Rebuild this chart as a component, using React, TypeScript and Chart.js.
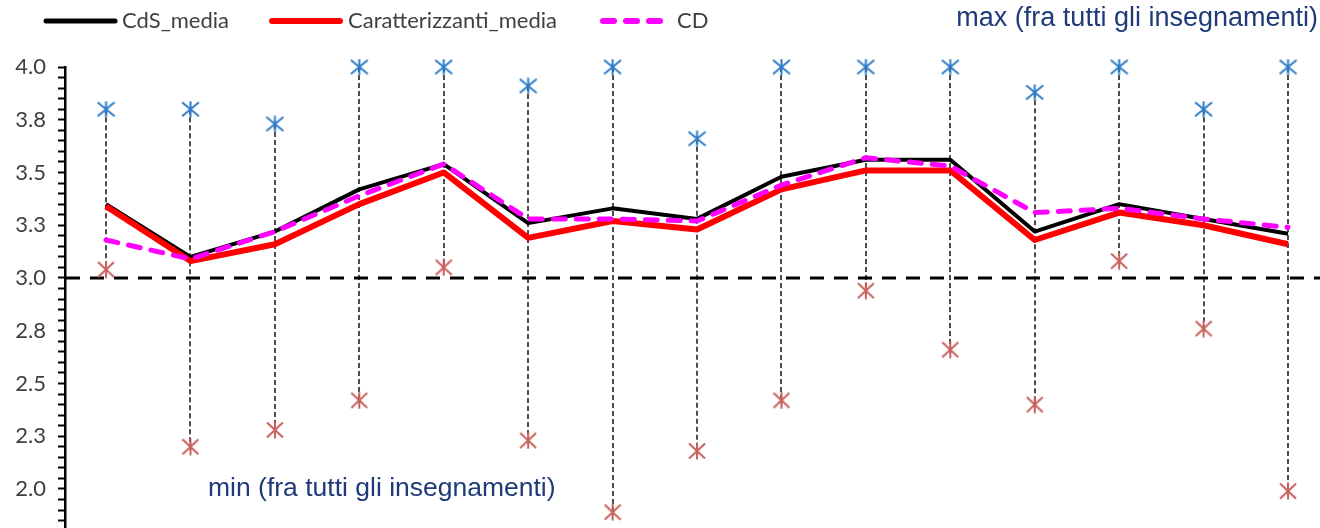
import React, { useEffect, useRef } from 'react';
import { Chart, registerables } from 'chart.js';

Chart.register(...registerables);

// ---- data ----
const CATEGORIES = ['1', '2', '3', '4', '5', '6', '7', '8', '9', '10', '11', '12', '13', '14', '15'];
const CDS_MEDIA = [3.35, 3.10, 3.22, 3.42, 3.54, 3.26, 3.33, 3.28, 3.48, 3.56, 3.56, 3.22, 3.35, 3.28, 3.21];
const CARATTERIZZANTI_MEDIA = [3.34, 3.08, 3.16, 3.35, 3.50, 3.19, 3.27, 3.23, 3.42, 3.51, 3.51, 3.18, 3.31, 3.25, 3.16];
const CD = [3.18, 3.09, 3.22, 3.39, 3.54, 3.28, 3.28, 3.27, 3.44, 3.57, 3.53, 3.31, 3.33, 3.28, 3.24];
const MAX_VALUES = [3.80, 3.80, 3.73, 4.0, 4.0, 3.91, 4.0, 3.66, 4.0, 4.0, 4.0, 3.88, 4.0, 3.80, 4.0];
const MIN_VALUES = [3.04, 2.20, 2.28, 2.42, 3.05, 2.23, 1.89, 2.18, 2.42, 2.94, 2.66, 2.40, 3.08, 2.76, 1.99];
const THRESHOLD = 3.0;
const Y_MIN = 1.815;
const Y_MAX = 4.0;
const Y_MINOR_STEP = 0.05;
const Y_LABEL_STEP = 0.25;
const X_MIN = -0.486;
const X_MAX = 14.379;
const MAX_LABEL = 'max (fra tutti gli insegnamenti)';
const MIN_LABEL = 'min (fra tutti gli insegnamenti)';

const W = 1320;
const H = 528;

function makeAsterisk(color: string, w: number, h: number, lw: number) {
  const c = document.createElement('canvas');
  c.width = w;
  c.height = h;
  const ctx = c.getContext('2d')!;
  ctx.strokeStyle = color;
  ctx.lineWidth = lw;
  ctx.beginPath();
  ctx.moveTo(w / 2, 0.5);
  ctx.lineTo(w / 2, h - 0.5);
  ctx.moveTo(1, 1.5);
  ctx.lineTo(w - 1, h - 1.5);
  ctx.moveTo(1, h - 1.5);
  ctx.lineTo(w - 1, 1.5);
  ctx.stroke();
  return c;
}

const toPoints = (arr: number[]) => CATEGORIES.map((_, i) => ({ x: i, y: arr[i] }));

const LEGEND_ITEMS = [
  { label: 'CdS_media', color: '#000000', width: 5, dash: [] as number[], x0: 46, x1: 115, tx: 122 },
  { label: 'Caratterizzanti_media', color: '#FF0000', width: 6, dash: [] as number[], x0: 272, x1: 340, tx: 348 },
  { label: 'CD', color: '#FF00FF', width: 6, dash: [11, 12], x0: 603, x1: 668, tx: 677 },
];

const decorPlugin = {
  id: 'decor',
  beforeDatasetsDraw(chart: any) {
    const { ctx, chartArea } = chart;
    const xs = chart.scales.x;
    const ys = chart.scales.y;
    ctx.save();
    // high-low lines
    ctx.strokeStyle = '#4D4D4D';
    ctx.lineWidth = 2;
    ctx.setLineDash([5, 3]);
    CATEGORIES.forEach((_, i) => {
      const x = Math.round(xs.getPixelForValue(i));
      ctx.beginPath();
      ctx.moveTo(x, ys.getPixelForValue(MAX_VALUES[i]));
      ctx.lineTo(x, ys.getPixelForValue(MIN_VALUES[i]));
      ctx.stroke();
    });
    // threshold line
    const yt = ys.getPixelForValue(THRESHOLD);
    ctx.strokeStyle = '#000000';
    ctx.lineWidth = 3;
    ctx.setLineDash([14, 10]);
    ctx.beginPath();
    ctx.moveTo(chartArea.left + 1, yt);
    ctx.lineTo(chartArea.right, yt);
    ctx.stroke();
    ctx.restore();
  },
  afterDraw(chart: any) {
    const { ctx } = chart;
    const ys = chart.scales.y;
    ctx.save();
    // legend
    const ly = 21;
    LEGEND_ITEMS.forEach((it) => {
      ctx.strokeStyle = it.color;
      ctx.lineWidth = it.width;
      ctx.lineCap = 'round';
      ctx.setLineDash(it.dash);
      ctx.beginPath();
      ctx.moveTo(it.x0, ly);
      ctx.lineTo(it.x1, ly);
      ctx.stroke();
      ctx.setLineDash([]);
      ctx.fillStyle = '#404040';
      ctx.font = '22px Lato, "Noto Sans", sans-serif';
      ctx.textAlign = 'left';
      ctx.textBaseline = 'middle';
      ctx.fillText(it.label, it.tx, ly);
    });
    // annotations
    ctx.fillStyle = '#1F3A78';
    ctx.textBaseline = 'middle';
    ctx.font = '27px "Liberation Sans", Arial, sans-serif';
    ctx.textAlign = 'right';
    ctx.fillText(MAX_LABEL, 1318, 19);
    ctx.font = '26.5px "Liberation Sans", Arial, sans-serif';
    ctx.textAlign = 'left';
    ctx.fillText(MIN_LABEL, 208, ys.getPixelForValue(2.0));
    ctx.restore();
  },
};

export default function App() {
  const ref = useRef<HTMLCanvasElement | null>(null);
  useEffect(() => {
    if (!ref.current) return;
    const blueStar = makeAsterisk('#2B7BC7', 19, 17, 2);
    const redStar = makeAsterisk('#C8605C', 18, 18, 2);
    const lineBase = { pointRadius: 0, fill: false, tension: 0, borderJoinStyle: 'round' as const };
    const chart = new Chart(ref.current, {
      type: 'line',
      data: {
        datasets: [
          { ...lineBase, label: 'CD', data: toPoints(CD), borderColor: '#FF00FF', backgroundColor: '#FF00FF', borderWidth: 5, borderDash: [12, 11], borderCapStyle: 'round', order: 1 },
          { ...lineBase, label: 'Caratterizzanti_media', data: toPoints(CARATTERIZZANTI_MEDIA), borderColor: '#FF0000', backgroundColor: '#FF0000', borderWidth: 6, order: 2 },
          { ...lineBase, label: 'CdS_media', data: toPoints(CDS_MEDIA), borderColor: '#000000', backgroundColor: '#000000', borderWidth: 4, order: 3 },
          { label: 'max', data: toPoints(MAX_VALUES), showLine: false, pointStyle: blueStar as any, pointRadius: 9, order: 4, clip: false as any },
          { label: 'min', data: toPoints(MIN_VALUES), showLine: false, pointStyle: redStar as any, pointRadius: 9, order: 5, clip: false as any },
        ] as any,
      },
      options: {
        responsive: false,
        animation: false,
        events: [],
        layout: { autoPadding: false, padding: { top: 67, left: 0, right: 0, bottom: 0 } },
        plugins: { legend: { display: false }, tooltip: { enabled: false } },
        scales: {
          x: { type: 'linear', min: X_MIN, max: X_MAX, display: false },
          y: {
            type: 'linear',
            min: Y_MIN,
            max: Y_MAX,
            border: { display: true, color: '#000000', width: 2.5 },
            grid: { display: true, drawOnChartArea: false, color: '#000000', tickLength: 7, tickWidth: 2 },
            ticks: {
              stepSize: Y_MINOR_STEP,
              includeBounds: false,
              autoSkip: false,
              padding: 12,
              color: '#404040',
              font: { family: 'Lato, "Noto Sans", sans-serif', size: 22 },
              callback: (v: any) => {
                const q = Number(v) / Y_LABEL_STEP;
                return Math.abs(q - Math.round(q)) < 1e-6 ? Number(v).toFixed(1) : '';
              },
            },
            afterFit: (s: any) => {
              s.width = 65;
              s.paddingTop = 0;
              s.paddingBottom = 0;
            },
          },
        },
      } as any,
      plugins: [decorPlugin],
    });
    return () => chart.destroy();
  }, []);
  return (
    <div style={{ position: 'fixed', left: 0, top: 0, width: W, height: H, background: '#fff', overflow: 'hidden' }}>
      <canvas ref={ref} width={W} height={H} style={{ display: 'block', width: W, height: H }} />
    </div>
  );
}
